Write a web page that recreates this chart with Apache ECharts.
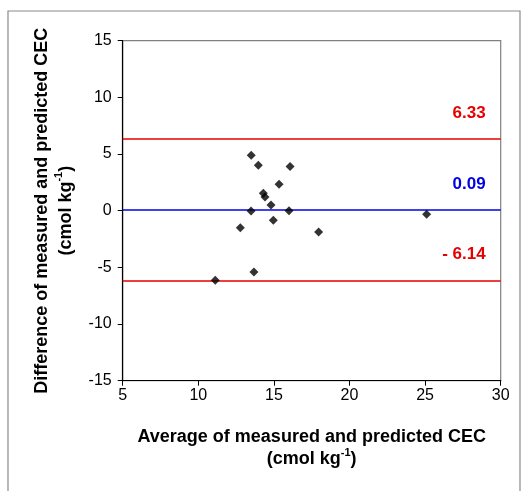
<!DOCTYPE html>
<html>
<head>
<meta charset="utf-8">
<script src="https://cdn.jsdelivr.net/npm/echarts@6/dist/echarts.min.js"></script>
<style>html,body{margin:0;padding:0;background:#fff}#c{width:523px;height:491px}</style>
</head>
<body>
<div id="c"></div>
<script>
// Average of measured and predicted CEC (x)
const avgCEC = [13.5, 13.97, 16.07, 15.34, 14.3, 14.41, 14.81, 13.49, 16.0, 14.96, 12.78, 17.96, 13.68, 11.12, 25.1];
// Difference of measured and predicted CEC (y)
const diffCEC = [4.9, 4.0, 3.9, 2.33, 1.53, 1.21, 0.5, -0.03, 0.0, -0.85, -1.5, -1.88, -5.41, -6.14, -0.32];
// Reference lines: upper limit, mean difference, lower limit
const refValues = [6.33, 0.09, -6.14];
const refLabels = ['6.33', '0.09', '- 6.14'];
const refColors = ['#e60000', '#0000e6', '#e60000'];
const xTicks = [5, 30, 5];   // min, max, interval
const yTicks = [-15, 15, 5];

const points = avgCEC.map((x, i) => [x, diffCEC[i]]);
const chart = echarts.init(document.getElementById('c'), null, {renderer: 'canvas'});
const font = 'Liberation Sans, Arial, sans-serif';
chart.setOption({
  animation: false,
  backgroundColor: '#fff',
  graphic: [{
    type: 'rect', shape: {x: 8, y: 11, width: 512, height: 490},
    style: {fill: 'none', stroke: '#8a8a8a', lineWidth: 1.2}, z: -10
  }, {
    type: 'rect', shape: {x: 122.7, y: 40.7, width: 378, height: 340},
    style: {fill: 'none', stroke: '#808080', lineWidth: 1.2}, z: -5
  }],
  grid: {left: 122.7, right: 22.3, top: 40.7, bottom: 110.3, containLabel: false},
  xAxis: {
    type: 'value', min: xTicks[0], max: xTicks[1], interval: xTicks[2],
    splitLine: {show: false},
    axisLine: {onZero: false, lineStyle: {color: '#000', width: 1.2}},
    axisTick: {show: true, length: 5, lineStyle: {color: '#000'}},
    axisLabel: {color: '#000', fontSize: 16, fontFamily: font, margin: 7},
    name: '{b|Average of measured and predicted CEC}\n{b|(cmol kg}{s|-1}{b|)}',
    nameLocation: 'middle', nameGap: 45,
    nameTextStyle: {
      lineHeight: 22,
      rich: {
        b: {fontSize: 18, fontWeight: 'bold', fontFamily: font, color: '#000', lineHeight: 22},
        s: {fontSize: 11, fontWeight: 'bold', fontFamily: font, color: '#000', verticalAlign: 'top', lineHeight: 22, padding: [0, 0, 8, 0]}
      }
    }
  },
  yAxis: {
    type: 'value', min: yTicks[0], max: yTicks[1], interval: yTicks[2],
    splitLine: {show: false},
    axisLine: {onZero: false, lineStyle: {color: '#000', width: 1.2}},
    axisTick: {show: true, length: 5, lineStyle: {color: '#000'}},
    axisLabel: {color: '#000', fontSize: 16, fontFamily: font, margin: 11},
    name: '{b|Difference of measured and predicted CEC}\n{b|(cmol kg}{s|-1}{b|)}',
    nameLocation: 'middle', nameGap: 45, nameRotate: 90,
    nameTextStyle: {
      lineHeight: 24,
      rich: {
        b: {fontSize: 18, fontWeight: 'bold', fontFamily: font, color: '#000', lineHeight: 24},
        s: {fontSize: 11, fontWeight: 'bold', fontFamily: font, color: '#000', verticalAlign: 'top', lineHeight: 24, padding: [0, 0, 8, 0]}
      }
    }
  },
  series: [{
    type: 'scatter',
    data: points,
    symbol: 'diamond',
    symbolSize: 9,
    itemStyle: {color: '#000'},
    z: 5,
    markLine: {
      silent: true,
      symbol: ['none', 'none'],
      z: 3,
      data: refValues.map((v, i) => ({
        yAxis: v,
        lineStyle: {color: refColors[i], width: 1.6, type: 'solid'},
        label: {
          show: true, position: 'insideEndTop', formatter: refLabels[i],
          color: refColors[i], fontSize: 17, fontWeight: 'bold', fontFamily: font,
          distance: [15, 17]
        }
      }))
    }
  }]
});
</script>
</body>
</html>
